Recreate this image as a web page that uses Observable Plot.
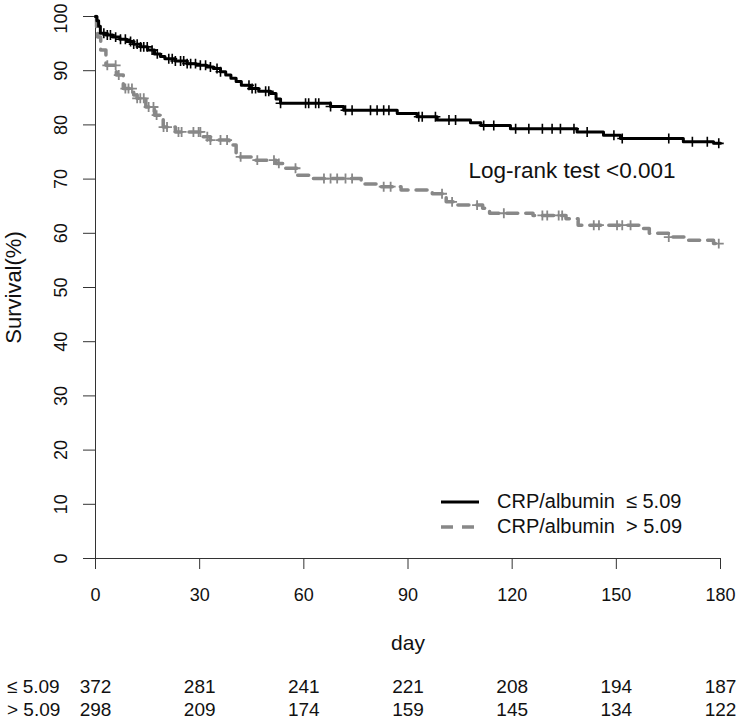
<!DOCTYPE html>
<html><head><meta charset="utf-8">
<script src="https://cdn.jsdelivr.net/npm/d3@7"></script>
<script src="https://cdn.jsdelivr.net/npm/@observablehq/plot@0.6"></script>
<style>
body{margin:0;background:#fff;}
#wrap{position:relative;width:737px;height:721px;overflow:hidden;font-family:"Liberation Sans",Arial,sans-serif;color:#111;}
.leg{position:absolute;left:440px;height:24px;font-size:20px;white-space:pre;display:flex;align-items:center;}
.leg svg{margin-right:17px;}
</style></head><body><div id="wrap"></div>
<script>
// ---- data ----
const xTicks = [0, 30, 60, 90, 120, 150, 180];
const yTicks = [0, 10, 20, 30, 40, 50, 60, 70, 80, 90, 100];

const lowDay  = [0, 0.4, 0.9, 1.4, 3, 5, 7, 9, 11, 13, 15, 17, 18.7, 20, 23, 26.4, 29, 32, 34, 36, 37.5, 39, 40.5, 42, 44.6, 47, 50.4, 52, 53.3, 67.7, 71.5, 86.9, 92.6, 98.4, 108, 111, 119.5, 138.7, 146.3, 151.2, 169.3, 178, 180];
const lowSurv = [100, 99.2, 98.2, 96.9, 96.6, 96.2, 95.8, 95.4, 94.9, 94.4, 93.8, 93.1, 92.6, 92.2, 91.8, 91.3, 91.0, 90.7, 90.4, 89.8, 89.2, 88.6, 88.0, 87.3, 86.7, 86.2, 85.8, 84.8, 84.0, 83.4, 82.7, 82.1, 81.5, 80.9, 80.4, 79.9, 79.3, 78.7, 78.1, 77.5, 76.9, 76.6, 76.6];

const highDay  = [0, 0.3, 0.6, 1.5, 3, 6, 8, 11, 12, 14.5, 17, 19.5, 23, 31, 33, 38.5, 40.5, 45, 52, 54, 58, 61.5, 76.5, 82, 88, 97, 101, 104, 111.5, 113.5, 126, 135.5, 139, 157, 159.5, 165, 170, 178, 180];
const highSurv = [100, 98, 96.2, 93.8, 91, 89.2, 86.7, 85.5, 84.9, 83.3, 81.8, 79.6, 78.7, 77.8, 77.2, 76.3, 74.1, 73.5, 72.9, 72, 70.7, 70.1, 69.1, 68.6, 68, 67.3, 65.8, 65.2, 64.6, 63.7, 63.3, 62.7, 61.5, 60.9, 60, 59.3, 58.7, 58.1, 58.1];

const lowCensor  = [2.4, 3.4, 4.3, 5.8, 7.2, 8.6, 10.1, 11, 12, 13, 13.9, 14.9, 16.3, 17.8, 21.1, 22.1, 23, 24.5, 25.4, 26.4, 27.4, 28.8, 30.2, 31.7, 33.1, 35, 36, 44.2, 45.1, 46.1, 49, 49.9, 53.3, 60.5, 61.4, 63.4, 64.3, 67.7, 72, 73.9, 79.2, 81.1, 83, 84.5, 93.1, 94.1, 97.9, 101.8, 103.7, 111.8, 114.7, 121, 124.8, 128.7, 131.5, 133.9, 137.8, 141.6, 149.3, 151.7, 165.1, 171.9, 176.2, 179.5];
const highCensor = [3.4, 5.8, 6.7, 8.6, 9.5, 10.5, 12, 12.9, 13.9, 15.3, 16.7, 17.6, 19.6, 20.6, 23.9, 24.8, 28.2, 29.7, 30.2, 32.2, 33.1, 36, 37.9, 41.8, 46.6, 51.4, 52.8, 57.6, 65.8, 67.7, 69.6, 72, 73.9, 83, 85, 99.8, 102.7, 109.9, 117.6, 128.7, 130.1, 133.4, 134.4, 143.5, 145, 150.2, 151.7, 154.1, 165.1, 179.5];

const riskLow  = [372, 281, 241, 221, 208, 194, 187];
const riskHigh = [298, 209, 174, 159, 145, 134, 122];
const groupLabels = ["\u2264 5.09", "> 5.09"];
const legendLabels = ["CRP/albumin  \u2264 5.09", "CRP/albumin  > 5.09"];
const pText = "Log-rank test <0.001";
const xLabel = "day";
const yLabel = "Survival(%)";

// ---- build ----
const fam = '"Liberation Sans", Arial, sans-serif';
const ink = "#111";
const black = "#000", grey = "#888";
const lowData = lowDay.map((d, i) => ({day: d, surv: lowSurv[i]}));
const highData = highDay.map((d, i) => ({day: d, surv: highSurv[i]}));
function survAt(days, survs, t) {
  let v = survs[0];
  for (let i = 0; i < days.length; i++) if (days[i] <= t) v = survs[i];
  return v;
}
const riskRows = [
  ...xTicks.map((d, i) => ({day: d, n: riskLow[i], row: 0})),
  ...xTicks.map((d, i) => ({day: d, n: riskHigh[i], row: 1}))
];
const yMax = yTicks[yTicks.length - 1];

const chart = Plot.plot({
  width: 737, height: 721,
  marginTop: 16, marginLeft: 95, marginRight: 17, marginBottom: 163,
  x: {domain: [0, 180], axis: null},
  y: {domain: [0, 100], axis: null},
  style: {fontFamily: fam, background: "#fff", color: ink, overflow: "visible"},
  marks: [
    // axes
    Plot.ruleY([0], {x1: 0, x2: 180, stroke: "#333", strokeWidth: 1}),
    Plot.ruleX([0], {y1: 0, y2: 100, stroke: "#333", strokeWidth: 1}),
    Plot.ruleX(xTicks, {y1: 0, y2: 0, insetBottom: -11, stroke: "#333", strokeWidth: 1}),
    Plot.ruleY(yTicks, {x1: 0, x2: 0, insetLeft: -12, stroke: "#333", strokeWidth: 1}),
    Plot.text(xTicks, {x: d => d, text: d => String(d), frameAnchor: "bottom", dy: 37, textAnchor: "middle", lineAnchor: "middle", fontSize: 18, fill: ink}),
    Plot.text(yTicks.filter(d => d !== yMax), {y: d => d, text: d => String(d), frameAnchor: "left", dx: -34, rotate: -90, textAnchor: "middle", lineAnchor: "middle", fontSize: 18, fill: ink}),
    Plot.text([yMax], {y: d => d, text: d => String(d), frameAnchor: "left", dx: -34, dy: 2, rotate: -90, textAnchor: "middle", lineAnchor: "middle", fontSize: 18, fill: ink}),
    Plot.text([xLabel], {text: d => d, frameAnchor: "bottom", dy: 85, textAnchor: "middle", lineAnchor: "middle", fontSize: 21, fill: ink}),
    Plot.text([yLabel], {text: d => d, frameAnchor: "left", dx: -82, rotate: -90, textAnchor: "middle", lineAnchor: "middle", fontSize: 22, fill: ink}),
    // curves
    Plot.line(highData, {x: "day", y: "surv", curve: "step-after", stroke: grey, strokeWidth: 3.5, strokeDasharray: "11,8"}),
    Plot.line(lowData, {x: "day", y: "surv", curve: "step-after", stroke: black, strokeWidth: 3}),
    Plot.dot(highCensor, {x: d => d, y: d => survAt(highDay, highSurv, d), symbol: "plus", r: 3.3, stroke: grey, strokeWidth: 1.8}),
    Plot.dot(lowCensor, {x: d => d, y: d => survAt(lowDay, lowSurv, d), symbol: "plus", r: 3.3, stroke: black, strokeWidth: 1.6}),
    // annotation
    Plot.text([pText], {text: d => d, frameAnchor: "top-left", dx: 373, dy: 154, textAnchor: "start", lineAnchor: "middle", fontSize: 22.5, fill: ink}),
    // risk table
    Plot.text(riskRows.filter(d => d.row === 0), {x: "day", text: d => String(d.n), frameAnchor: "bottom", dy: 128, textAnchor: "middle", lineAnchor: "middle", fontSize: 19, fill: ink}),
    Plot.text(riskRows.filter(d => d.row === 1), {x: "day", text: d => String(d.n), frameAnchor: "bottom", dy: 151.5, textAnchor: "middle", lineAnchor: "middle", fontSize: 19, fill: ink}),
    Plot.text([groupLabels[0]], {text: d => d, frameAnchor: "bottom-left", dx: -88.5, dy: 128, textAnchor: "start", lineAnchor: "middle", fontSize: 19, fill: ink}),
    Plot.text([groupLabels[1]], {text: d => d, frameAnchor: "bottom-left", dx: -88.5, dy: 151.5, textAnchor: "start", lineAnchor: "middle", fontSize: 19, fill: ink})
  ]
});
const wrap = document.getElementById("wrap");
wrap.appendChild(chart);

// legend (inside plot area)
const legendItems = [
  {label: legendLabels[0], color: black, width: 3, dash: null, top: 489.5},
  {label: legendLabels[1], color: grey, width: 3.5, dash: "12,9", top: 514.5}
];
legendItems.forEach(it => {
  const div = document.createElement("div");
  div.className = "leg";
  div.style.top = it.top + "px";
  const ns = "http://www.w3.org/2000/svg";
  const svg = document.createElementNS(ns, "svg");
  svg.setAttribute("width", 40); svg.setAttribute("height", 8);
  const ln = document.createElementNS(ns, "line");
  ln.setAttribute("x1", 1); ln.setAttribute("x2", 39);
  ln.setAttribute("y1", 4); ln.setAttribute("y2", 4);
  ln.setAttribute("stroke", it.color); ln.setAttribute("stroke-width", it.width);
  if (it.dash) ln.setAttribute("stroke-dasharray", it.dash);
  svg.appendChild(ln);
  div.appendChild(svg);
  const span = document.createElement("span");
  span.textContent = it.label;
  div.appendChild(span);
  wrap.appendChild(div);
});
</script>
</body></html>
